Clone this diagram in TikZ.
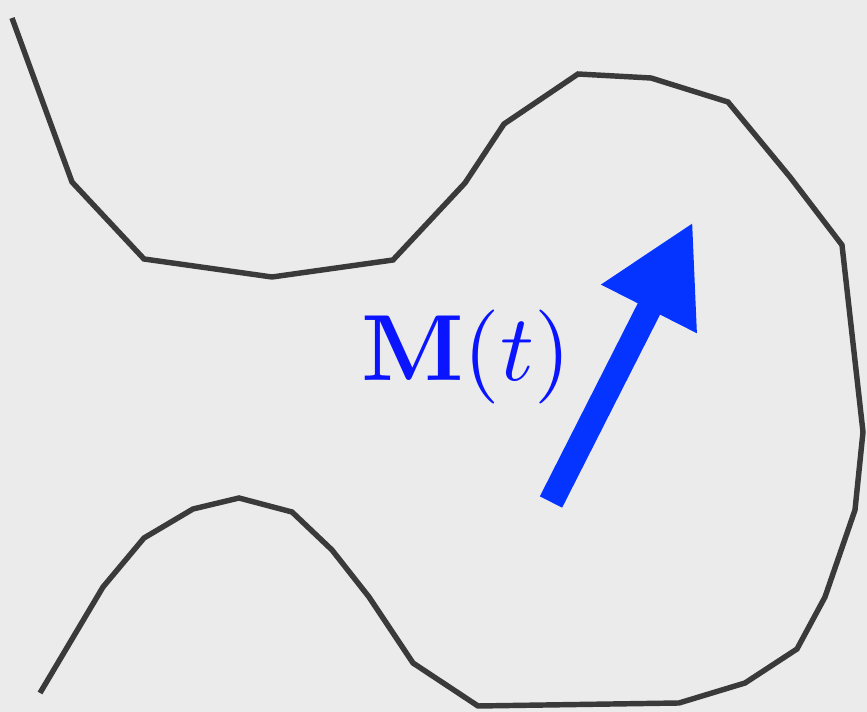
\documentclass[tikz,border=0pt]{standalone}
\usepackage{amsmath,amssymb}
\usepackage{xcolor}
\usepackage{tikz}
\usetikzlibrary{arrows.meta}

\definecolor{paper}{HTML}{EBEBEB}
\definecolor{wall}{HTML}{3A3A3A}
\definecolor{magblue}{HTML}{0533FF}
\definecolor{labblue}{HTML}{0A14FF}

\tikzset{
    wall line/.style={draw=wall, line width=3.1pt, line join=miter},
    moment arrow/.style={draw=magblue, line width=0.5cm,
        -{Triangle[length=1.95cm, width=2.0cm, fill=magblue]}}
}

\begin{document}
\begin{tikzpicture}[x=0.02cm, y=-0.02cm]

        % 1. Paper background (fixes the frame)
        \fill[paper] (0,0) rectangle (867,712);
        \useasboundingbox (0,0) rectangle (867,712);

        % 2. Upper wall, running round the right lobe
        \draw[wall line] (12,18) -- (72,182) -- (144,259) -- (272,277)
              -- (393,260) -- (465,183) -- (504,124) -- (578,74)
              -- (651,78) -- (728,102) -- (790,177) -- (842,245)
              -- (863,432) -- (855,510) -- (825,597) -- (797,649)
              -- (745,683) -- (679,703) -- (478,706) -- (413,663)
              -- (369,597) -- (332,550) -- (292,512) -- (239,498)
              -- (193,509) -- (144,538) -- (103,587) -- (40,693);

        % 3. Magnetisation vector and its label
        \coordinate (M_tail) at (551,502);
        \coordinate (M_tip) at (693,222);
        \draw[moment arrow] (M_tail) -- (M_tip);
        \node[labblue, anchor=base, inner sep=0pt, scale=5.35] (M_lab) at (466,381)
              {$\mathbf{M}(t)$};

\end{tikzpicture}
\end{document}
